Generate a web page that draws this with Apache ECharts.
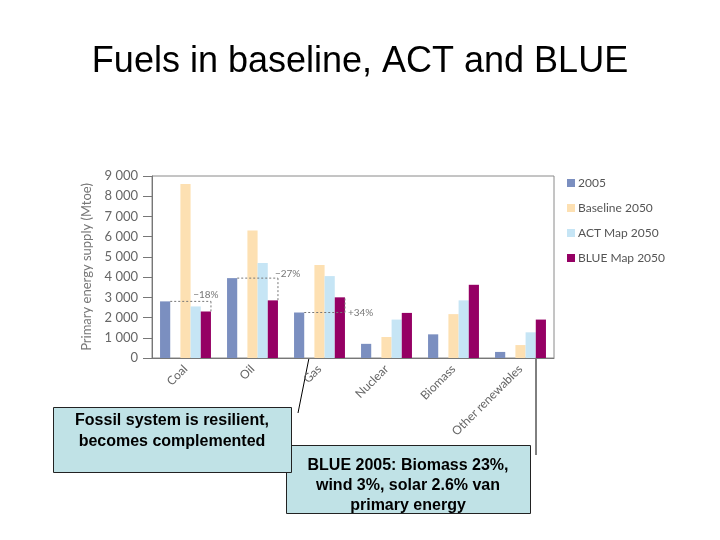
<!DOCTYPE html>
<html>
<head>
<meta charset="utf-8">
<script src="https://cdn.jsdelivr.net/npm/echarts@6/dist/echarts.min.js"></script>
<style>
html,body{margin:0;padding:0;background:#fff;}
#c{width:720px;height:540px;}
</style>
</head>
<body>
<div id="c"></div>
<script>
var categories = ['Coal', 'Oil', 'Gas', 'Nuclear', 'Biomass', 'Other renewables'];
var seriesNames = ['2005', 'Baseline 2050', 'ACT Map 2050', 'BLUE Map 2050'];
var v2005 = [2800, 3950, 2250, 700, 1170, 300];
var baseline2050 = [8600, 6300, 4600, 1040, 2170, 640];
var act2050 = [2550, 4700, 4050, 1900, 2850, 1270];
var blue2050 = [2300, 2850, 3000, 2230, 3620, 1900];
var yTicks = [0, 1000, 2000, 3000, 4000, 5000, 6000, 7000, 8000, 9000];
// change annotations: [category index, 2005 value, BLUE 2050 value]
var changes = [[0, 2800, 2300], [1, 3950, 2850], [2, 2250, 3000]];
var changeLabels = ['\u221218%', '\u221227%', '+34%'];

var colors = ['#7b8fc0', '#fde0b2', '#c6e5f5', '#950064'];
var gapRatio = 0.24;

var chart = echarts.init(document.getElementById('c'));

function annotate(params, api) {
  var idx = params.dataIndex;
  var cat = api.value(0);
  var from = api.coord([cat, api.value(1)]);
  var to = api.coord([cat, api.value(2)]);
  var band = api.size([1, 0])[0];
  var bw = band * (1 - gapRatio) / 5;
  var cx = from[0];
  var x0 = cx - 1.5 * bw;
  var x1 = cx + 2.5 * bw;
  var dash = {stroke: '#777', lineWidth: 1, lineDash: [2, 2]};
  var labelStyle;
  if (idx === 0) {
    labelStyle = {x: cx + 2 * bw, y: from[1] - 2, text: changeLabels[idx], textAlign: 'center', textVerticalAlign: 'bottom'};
  } else if (idx === 1) {
    labelStyle = {x: x1 - 3, y: from[1] + 1, text: changeLabels[idx], textAlign: 'left', textVerticalAlign: 'bottom'};
  } else {
    labelStyle = {x: x1 + 3, y: from[1], text: changeLabels[idx], textAlign: 'left', textVerticalAlign: 'middle'};
  }
  labelStyle.fill = '#777';
  labelStyle.font = '10px Lato, sans-serif';
  return {
    type: 'group',
    children: [
      {type: 'line', shape: {x1: x0, y1: from[1], x2: x1, y2: from[1]}, style: dash},
      {type: 'line', shape: {x1: x1, y1: from[1], x2: x1, y2: to[1]}, style: dash},
      {type: 'text', style: labelStyle}
    ]
  };
}

var option = {
  backgroundColor: '#fff',
  animation: false,
  title: {
    text: 'Fuels in baseline, ACT and BLUE',
    left: 'center',
    top: 39,
    textStyle: {fontFamily: 'Liberation Sans, Arial, sans-serif', fontSize: 36, fontWeight: 'normal', color: '#000'}
  },
  legend: {
    orient: 'vertical',
    left: 562,
    top: 172,
    data: seriesNames,
    itemWidth: 8,
    itemHeight: 8,
    itemGap: 13,
    icon: 'rect',
    textStyle: {fontFamily: 'Lato, sans-serif', fontSize: 12, color: '#555', padding: [0, 0, 0, -2]}
  },
  grid: {
    left: 152,
    right: 166,
    top: 176,
    bottom: 182,
    show: true,
    borderColor: '#8a8a8a',
    borderWidth: 1
  },
  xAxis: {
    type: 'category',
    data: categories,
    axisLine: {lineStyle: {color: '#777'}},
    axisTick: {inside: true, length: 5, interval: 0, lineStyle: {color: '#777'}},
    axisLabel: {rotate: 45, interval: 0, margin: 9, fontFamily: 'Lato, sans-serif', fontSize: 12, color: '#666'}
  },
  yAxis: {
    type: 'value',
    min: yTicks[0],
    max: yTicks[yTicks.length - 1],
    interval: 1000,
    name: 'Primary energy supply (Mtoe)',
    nameLocation: 'middle',
    nameGap: 58,
    nameTextStyle: {fontFamily: 'Lato, sans-serif', fontSize: 13, color: '#777'},
    axisLine: {show: true, lineStyle: {color: '#777'}},
    axisTick: {show: true, length: 9, lineStyle: {color: '#777'}},
    splitLine: {show: false},
    axisLabel: {
      margin: 14,
      fontFamily: 'Lato, sans-serif',
      fontSize: 13,
      color: '#666',
      formatter: function (v) { return String(v).replace(/\B(?=(\d{3})+(?!\d))/g, ' '); }
    }
  },
  series: [
    {name: seriesNames[0], type: 'bar', data: v2005, itemStyle: {color: colors[0]}, barGap: '0%', barCategoryGap: '24%'},
    {name: 'gap', type: 'bar', data: v2005.map(function () { return '-'; }), barGap: '0%', barCategoryGap: '24%'},
    {name: seriesNames[1], type: 'bar', data: baseline2050, itemStyle: {color: colors[1]}, barGap: '0%', barCategoryGap: '24%'},
    {name: seriesNames[2], type: 'bar', data: act2050, itemStyle: {color: colors[2]}, barGap: '0%', barCategoryGap: '24%'},
    {name: seriesNames[3], type: 'bar', data: blue2050, itemStyle: {color: colors[3]}, barGap: '0%', barCategoryGap: '24%'},
    {type: 'custom', renderItem: annotate, data: changes, z: 5, silent: true}
  ],
  graphic: [
    {type: 'line', shape: {x1: 309, y1: 358, x2: 298, y2: 413}, style: {stroke: '#000', lineWidth: 1}},
    {type: 'line', shape: {x1: 536, y1: 358, x2: 536, y2: 455}, style: {stroke: '#000', lineWidth: 1}},
    {type: 'rect', shape: {x: 286.5, y: 445.5, width: 244, height: 68}, style: {fill: '#c0e2e6', stroke: '#222', lineWidth: 1}, z: 10},
    {type: 'text', x: 408, y: 456, z: 11, style: {text: 'BLUE 2005: Biomass 23%,\nwind 3%, solar 2.6% van\nprimary energy', textAlign: 'center', font: 'bold 16px "Liberation Sans", Arial, sans-serif', fill: '#000', lineHeight: 20}},
    {type: 'rect', shape: {x: 53.5, y: 407.5, width: 238, height: 65}, style: {fill: '#c0e2e6', stroke: '#222', lineWidth: 1}, z: 12},
    {type: 'text', x: 172, y: 410, z: 13, style: {text: 'Fossil system is resilient,\nbecomes complemented', textAlign: 'center', font: 'bold 16px "Liberation Sans", Arial, sans-serif', fill: '#000', lineHeight: 21}}
  ]
};
chart.setOption(option);
</script>
</body>
</html>
